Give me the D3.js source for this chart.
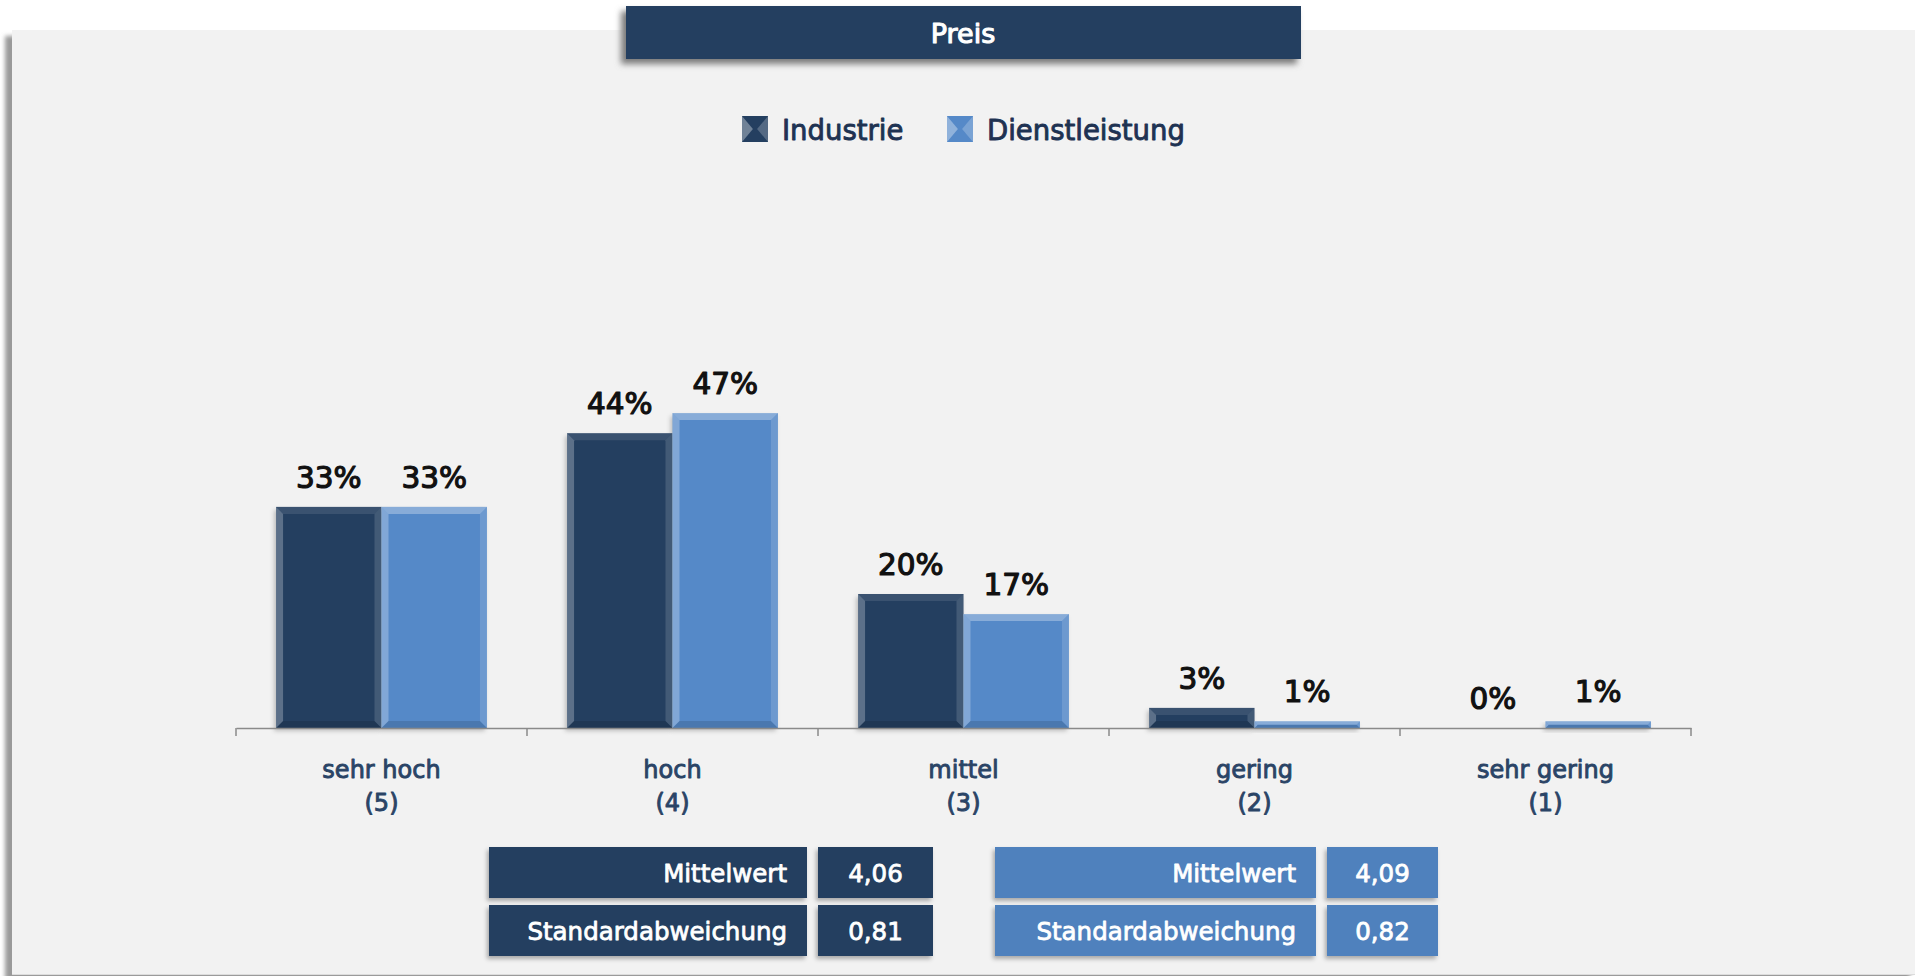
<!DOCTYPE html>
<html>
<head>
<meta charset="utf-8">
<script src="https://cdn.jsdelivr.net/npm/d3@7"></script>
<style>
  html, body { margin: 0; padding: 0; background: #ffffff; }
  svg { display: block; font-family: "DejaVu Sans", Verdana, sans-serif; }
  text { paint-order: stroke; stroke-linejoin: round; }
</style>
</head>
<body>
<svg id="chart" width="1921" height="976"></svg>
<script>
// Chart content
const title = "Preis";
const categories = ["sehr hoch", "hoch", "mittel", "gering", "sehr gering"];
const categoryCodes = ["(5)", "(4)", "(3)", "(2)", "(1)"];
const seriesNames = ["Industrie", "Dienstleistung"];
const industrieValues = [33, 44, 20, 3, 0];
const dienstleistungValues = [33, 47, 17, 1, 1];
const statLabels = ["Mittelwert", "Standardabweichung"];
const industrieStats = [4.06, 0.81];
const dienstleistungStats = [4.09, 0.82];

const seriesValues = [industrieValues, dienstleistungValues];
const seriesStats = [industrieStats, dienstleistungStats];

// Styling
const colors = ["#243f60", "#5589c8"];
const bevelTop = [0.10, 0.30];
const statColors = ["#243f60", "#4f81bd"];
const textNavy = "#1e3252";

const svg = d3.select("#chart");
const defs = svg.append("defs");

const blur = (id, sd) => defs.append("filter").attr("id", id)
  .attr("x", "-20%").attr("y", "-20%").attr("width", "140%").attr("height", "140%")
  .append("feGaussianBlur").attr("stdDeviation", sd);
blur("soft", 3);
blur("softSmall", 2);

// Panel background with left drop shadow
svg.append("rect").attr("x", 5).attr("y", 36).attr("width", 1905).attr("height", 945)
  .attr("fill", "#9a9a9a").attr("filter", "url(#softSmall)");
svg.append("rect").attr("x", 12).attr("y", 30).attr("width", 1903).attr("height", 944)
  .attr("fill", "#f2f2f2");
svg.append("line").attr("x1", 12).attr("x2", 1915).attr("y1", 974.5).attr("y2", 974.5)
  .attr("stroke", "#dcdcdc");

// Title banner
svg.append("rect").attr("x", 621).attr("y", 11).attr("width", 676).attr("height", 53)
  .attr("fill", "#7a7a7a").attr("filter", "url(#soft)");
svg.append("rect").attr("x", 626).attr("y", 6).attr("width", 675).attr("height", 53)
  .attr("fill", "#243f60");
svg.append("text").attr("x", 963).attr("y", 33).attr("text-anchor", "middle")
  .attr("dominant-baseline", "central").attr("fill", "#ffffff")
  .attr("font-size", 27).attr("stroke", "#ffffff").attr("stroke-width", 1.1)
  .text(title);

// Bevelled block, used for bars
function bevelBlock(g, x, y, w, h, color, bSize, topOp) {
  const b = Math.max(0, Math.min(bSize, h / 2, w / 2));
  g.append("rect").attr("x", x).attr("y", y).attr("width", w).attr("height", h).attr("fill", color);
  if (b <= 0) return;
  const poly = (pts, fill, op) => g.append("polygon")
    .attr("points", pts.map(p => p.join(",")).join(" "))
    .attr("fill", fill).attr("fill-opacity", op);
  poly([[x, y], [x + w, y], [x + w - b, y + b], [x + b, y + b]], "#ffffff", topOp);
  poly([[x, y], [x + b, y + b], [x + b, y + h - b], [x, y + h]], "#ffffff", 0.26);
  poly([[x + w, y], [x + w, y + h], [x + w - b, y + h - b], [x + w - b, y + b]], "#ffffff", 0.14);
  poly([[x, y + h], [x + b, y + h - b], [x + w - b, y + h - b], [x + w, y + h]], "#000000", 0.12);
}

// Legend swatch: square with light side wedges
function swatch(g, x, y, s, color) {
  g.append("rect").attr("x", x).attr("y", y).attr("width", s).attr("height", s).attr("fill", color);
  const c = s / 2, n = s * 0.08;
  g.append("polygon").attr("points", [[x, y], [x + c - n, y + c], [x, y + s]].map(p => p.join(",")).join(" "))
    .attr("fill", "#ffffff").attr("fill-opacity", 0.35);
  g.append("polygon").attr("points", [[x + s, y], [x + c + n, y + c], [x + s, y + s]].map(p => p.join(",")).join(" "))
    .attr("fill", "#ffffff").attr("fill-opacity", 0.22);
}

// Legend
const legendItems = [
  { x: 742, textX: 782 },
  { x: 947, textX: 987 }
];
const legend = svg.append("g");
seriesNames.forEach((name, i) => {
  const g = legend.append("g");
  swatch(g, legendItems[i].x, 116, 26, colors[i]);
  g.append("text").attr("x", legendItems[i].textX).attr("y", 130)
    .attr("dominant-baseline", "central").attr("font-size", 27.5)
    .attr("fill", textNavy).attr("stroke", textNavy).attr("stroke-width", 0.9)
    .text(name);
});

// Scales
const axisY = 728;
const x0 = d3.scaleBand().domain(categories).range([236, 1691]).paddingInner(0).paddingOuter(0);
const x1 = d3.scaleBand().domain(seriesNames).range([0, x0.bandwidth()]).paddingInner(0).paddingOuter(0.38);
const y = d3.scaleLinear().domain([0, 50]).range([axisY, axisY - 335]);

// Bars
const plot = svg.append("g");
seriesNames.forEach((name, si) => {
  seriesValues[si].forEach((v, ci) => {
    const bx = x0(categories[ci]) + x1(name);
    const by = y(v);
    const bh = axisY - by;
    if (bh <= 0) return;
    plot.append("rect").attr("x", bx - 2).attr("y", by + 3).attr("width", x1.bandwidth()).attr("height", bh)
      .attr("fill", "#000").attr("fill-opacity", 0.22).attr("filter", "url(#softSmall)");
  });
});
seriesNames.forEach((name, si) => {
  seriesValues[si].forEach((v, ci) => {
    const bx = x0(categories[ci]) + x1(name);
    const by = y(v);
    const bh = axisY - by;
    if (bh <= 0) return;
    bevelBlock(plot.append("g"), bx, by, x1.bandwidth(), bh, colors[si], 7, bevelTop[si]);
  });
});

// Value labels
seriesNames.forEach((name, si) => {
  seriesValues[si].forEach((v, ci) => {
    plot.append("text")
      .attr("x", x0(categories[ci]) + x1(name) + x1.bandwidth() / 2)
      .attr("y", y(v) - 29)
      .attr("text-anchor", "middle").attr("dominant-baseline", "central")
      .attr("font-size", 29.5).attr("fill", "#111111")
      .attr("stroke", "#111111").attr("stroke-width", 1.2)
      .text(v + "%");
  });
});

// Category axis
const axis = svg.append("g").attr("transform", `translate(0,${axisY})`)
  .call(d3.axisBottom(x0).tickSize(0).tickFormat(""));
axis.select(".domain").attr("stroke", "#8a8a8a").attr("stroke-width", 1.5);
const edges = categories.map(c => x0(c)).concat([x0(categories[categories.length - 1]) + x0.bandwidth()]);
axis.selectAll(".edge").data(edges).enter().append("line")
  .attr("x1", d => d).attr("x2", d => d).attr("y1", 0).attr("y2", 8)
  .attr("stroke", "#8a8a8a").attr("stroke-width", 1.5);

const catLabels = svg.append("g");
categories.forEach((c, i) => {
  const cx = x0(c) + x0.bandwidth() / 2;
  const t = catLabels.append("text").attr("text-anchor", "middle").attr("font-size", 24)
    .attr("fill", "#2a4466").attr("stroke", "#2a4466").attr("stroke-width", 0.9);
  t.append("tspan").attr("x", cx).attr("y", 778).text(c);
  t.append("tspan").attr("x", cx).attr("y", 811).text(categoryCodes[i]);
});

// Statistics tables
const fmt = v => v.toFixed(2).replace(".", ",");
const tables = [
  { labelX: 489, labelW: 318, valueX: 818, valueW: 115 },
  { labelX: 995, labelW: 321, valueX: 1327, valueW: 111 }
];
const rowY = [847, 905];
const rowH = 51;
const stats = svg.append("g");
tables.forEach((t, si) => {
  statLabels.forEach((lab, ri) => {
    const yy = rowY[ri];
    [[t.labelX, t.labelW], [t.valueX, t.valueW]].forEach(([bx, bw]) => {
      stats.append("rect").attr("x", bx - 2).attr("y", yy + 3).attr("width", bw).attr("height", rowH)
        .attr("fill", "#000").attr("fill-opacity", 0.3).attr("filter", "url(#softSmall)");
      stats.append("rect").attr("x", bx).attr("y", yy).attr("width", bw).attr("height", rowH)
        .attr("fill", statColors[si]);
    });
    stats.append("text").attr("x", t.labelX + t.labelW - 20).attr("y", yy + rowH / 2 + 1)
      .attr("text-anchor", "end").attr("dominant-baseline", "central")
      .attr("font-size", 24.5).attr("fill", "#ffffff")
      .attr("stroke", "#ffffff").attr("stroke-width", 0.8)
      .text(lab);
    stats.append("text").attr("x", t.valueX + t.valueW / 2).attr("y", yy + rowH / 2 + 1)
      .attr("text-anchor", "middle").attr("dominant-baseline", "central")
      .attr("font-size", 24.5).attr("fill", "#ffffff")
      .attr("stroke", "#ffffff").attr("stroke-width", 0.8)
      .text(fmt(seriesStats[si][ri]));
  });
});
</script>
</body>
</html>
